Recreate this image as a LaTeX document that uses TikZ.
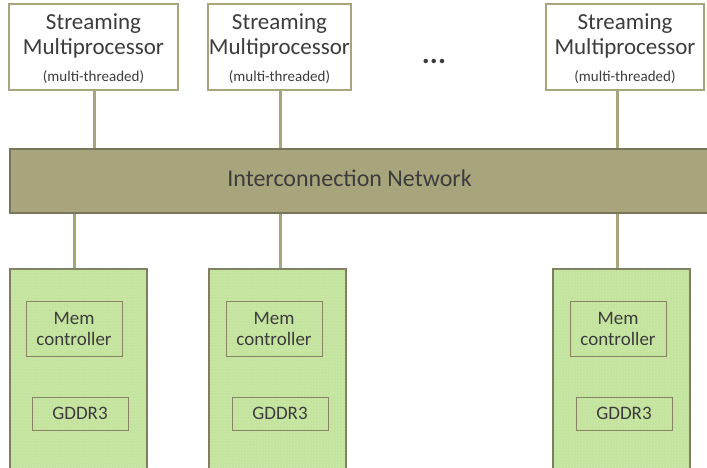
\documentclass[tikz,border=0pt]{standalone}
\usepackage{fontspec}
\setmainfont{Carlito}
\usetikzlibrary{patterns}
\definecolor{olive}{HTML}{A8A57D}
\definecolor{olivedark}{HTML}{78765A}
\definecolor{memgreen}{HTML}{C4E49E}
\definecolor{txt}{HTML}{3C3C3C}
\tikzset{
  smbox/.style={draw=olive, line width=2pt, fill=white, inner sep=0pt,
    minimum height=86pt, align=center, text=txt,
    font=\fontsize{23}{25}\selectfont},
  smtext/.style={align=center, text=txt, inner sep=0pt,
    font=\fontsize{23}{25}\selectfont},
  bus/.style={draw=olivedark, line width=2pt, fill=olive, inner sep=0pt},
  link/.style={draw=olive, line width=3pt},
  membox/.style={draw=olivedark!85!olive, line width=2pt, fill=memgreen, inner sep=0pt,
    minimum width=137pt, minimum height=210pt,
    postaction={pattern=dots, pattern color=white, fill opacity=0.45}},
  ctrlbox/.style={draw=olive!80!black, line width=0.8pt, inner sep=0pt,
    minimum width=96pt, minimum height=55pt, align=center, text=txt,
    font=\fontsize{19}{21}\selectfont},
  ddrbox/.style={draw=olive!80!black, line width=0.8pt, inner sep=0pt,
    minimum width=96pt, minimum height=33pt, text=txt,
    font=\fontsize{19}{21}\selectfont},
}
\newcommand{\smlabel}{Streaming\\Multiprocessor\\[2pt]{\fontsize{15}{16}\selectfont (multi-threaded)}}
\begin{document}
\begin{tikzpicture}[x=1pt, y=-1pt]
\useasboundingbox (0,0) rectangle (707,468);
\clip (0,0) rectangle (707,468);

% streaming multiprocessors (box, then its text block)
\node[smbox, minimum width=169pt] (sm1) at (93.5,47) {};
\node[smbox, minimum width=143pt] (sm2) at (279.5,47) {};
\node[smbox, minimum width=158pt] (sm3) at (625,47) {};
\node[smtext] (t1) at (93.5,48.5) {\smlabel};
\node[smtext] (t2) at (279.5,48.5) {\smlabel};
\node[smtext] (t3) at (625,48.5) {\smlabel};
\node[text=txt, font=\bfseries\fontsize{30}{32}\selectfont] (dots) at (434,61) {...};

% interconnection bus
\node[bus, minimum width=715pt, minimum height=64pt, anchor=west, text=txt,
  font=\fontsize{24}{26}\selectfont] (net) at (9,181)
  {\hspace*{-36pt}\raisebox{5pt}{Interconnection Network}};

% memory partitions
\node[membox] (m1) at (78,374) {};
\node[membox] (m2) at (277.5,374) {};
\node[membox] (m3) at (621.5,374) {};

\node[ctrlbox] (c1) at (74,328.5) {Mem\\controller};
\node[ctrlbox] (c2) at (274,328.5) {Mem\\controller};
\node[ctrlbox] (c3) at (618,328.5) {Mem\\controller};
\node[ddrbox] (d1) at (80,413.5) {GDDR3};
\node[ddrbox] (d2) at (280,413.5) {GDDR3};
\node[ddrbox] (d3) at (624,413.5) {GDDR3};

% links to the bus
\draw[link] (sm1.south -| 94,0) -- (net.north -| 94,0);
\draw[link] (sm2.south -| 280,0) -- (net.north -| 280,0);
\draw[link] (sm3.south -| 617,0) -- (net.north -| 617,0);
\draw[link] (net.south -| 74,0) -- (m1.north -| 74,0);
\draw[link] (net.south -| 280,0) -- (m2.north -| 280,0);
\draw[link] (net.south -| 617,0) -- (m3.north -| 617,0);
\end{tikzpicture}
\end{document}
